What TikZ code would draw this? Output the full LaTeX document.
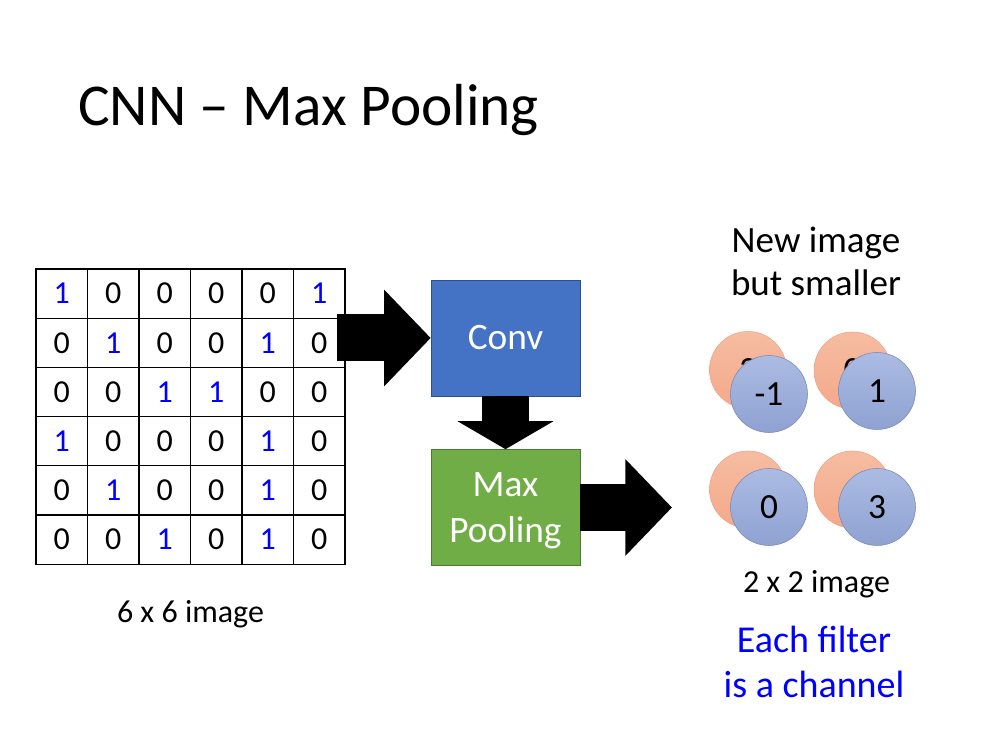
\documentclass[tikz,border=0pt]{standalone}
\usepackage{fontspec}
\setmainfont{Carlito}
\usetikzlibrary{arrows.meta,positioning}
\definecolor{convblue}{RGB}{68,114,196}
\definecolor{poolgreen}{RGB}{112,173,71}
\definecolor{chanorange}{RGB}{244,177,145}
\definecolor{chanblue}{RGB}{150,170,220}
\newcommand\cellval[1]{\ifnum#1=1 \textcolor{blue}{1}\else 0\fi}
\tikzset{
  cell/.style={draw,line width=0.9pt,minimum width=38.6pt,minimum height=36.9pt,inner sep=0pt,font=\fontsize{24}{28}\selectfont},
  stage/.style={draw,minimum width=111.75pt,minimum height=87pt,text=white,align=center,font=\fontsize{28}{35}\selectfont},
  blockarrow/.style={line width=35.25pt,-{Triangle[length=35pt,width=70.5pt]}},
  chan/.style={circle,minimum size=57.75pt,inner sep=0pt,font=\fontsize{26.5}{30}\selectfont},
  front/.style={chan,draw=chanblue!80!black,top color=chanblue!80!white,bottom color=chanblue!95!black},
  back/.style={chan,draw=chanorange!90!red,top color=chanorange!85!white,bottom color=chanorange!95!red}
}
\begin{document}
\begin{tikzpicture}[x=0.75pt,y=-0.75pt]
\useasboundingbox (0,0) rectangle (983,737);
\node[anchor=base west,inner sep=0pt,font=\fontsize{44.5}{52}\selectfont] (title) at (78,126) {CNN -- Max Pooling};
% 6 x 6 image
\foreach \row [count=\i] in {{1,0,0,0,0,1},{0,1,0,0,1,0},{0,0,1,1,0,0},{1,0,0,0,1,0},{0,1,0,0,1,0},{0,0,1,0,1,0}}
  \foreach \v [count=\j] in \row
    \node[cell] (c-\i-\j) at (10.25+51.5*\j,244.4+49.2*\i) {\cellval{\v}};
\node[anchor=base,inner sep=0pt,font=\fontsize{24}{28}\selectfont] (imglabel) at (190.5,623) {6 x 6 image};
% stages
\node(conv)[stage,fill=convblue,draw=convblue!70!black] at (505.5,338) {Conv};
\node(pool)[stage,fill=poolgreen,draw=poolgreen!70!black,text depth=0pt] at (505.5,507.5) {Max\\Pooling};
\coordinate (a1) at (337,338);
\coordinate (a3) at (672,507.5);
\draw[blockarrow] (a1) -- (conv.west);
\draw[blockarrow,-{Triangle[length=21pt,width=71pt]}] (conv.south) -- (pool.north);
\draw[blockarrow] (pool.east) -- (a3);
% 2 x 2 channels
\node(o1)[back] at (748,370) {3};
\node(o2)[back] at (852.5,370.5) {0};
\node(o3)[back] at (748,489.5) {};
\node(o4)[back] at (852.5,489.5) {};
\node(b1)[front] at (769,394) {-1};
\node(b2)[front] at (877,391) {1};
\node(b3)[front] at (769,507) {0};
\node(b4)[front] at (877,507) {3};
\node[anchor=base,align=center,inner sep=0pt,font=\fontsize{27.8}{32.25}\selectfont] (newimg) at (816,296) {New image\\but smaller};
\node[anchor=base,inner sep=0pt,font=\fontsize{24}{28}\selectfont] (smalllabel) at (816.5,593) {2 x 2 image};
\node[anchor=base,align=center,inner sep=0pt,text=blue,font=\fontsize{28.5}{33.75}\selectfont] (chanlabel) at (814,698) {Each filter\\is a channel};
\end{tikzpicture}
\end{document}
